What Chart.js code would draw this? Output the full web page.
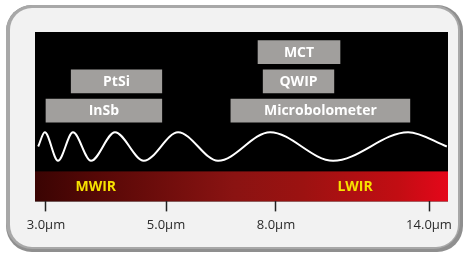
<!DOCTYPE html>
<html>
<head>
<meta charset="utf-8">
<script src="https://cdn.jsdelivr.net/npm/chart.js@4/dist/chart.umd.min.js"></script>
<style>
  html, body { margin: 0; padding: 0; background: #ffffff; }
  #c { display: block; }
</style>
</head>
<body>
<canvas id="c" width="464" height="256"></canvas>
<script>
// ---- data ----
const xTickValues = [3, 5, 8, 14];
const xTickLabels = ['3.0µm', '5.0µm', '8.0µm', '14.0µm'];

const detectors = ['InSb', 'PtSi', 'MCT', 'QWIP', 'Microbolometer'];
const detectorStart = [3.0, 3.42, 7.51, 7.65, 6.77];
const detectorEnd = [4.93, 4.93, 10.51, 10.27, 13.25];
const detectorRow = [0, 1, 2, 1, 0];

const waveX = [2.87, 2.98, 3.2, 3.45, 3.75, 4.15, 4.63, 5.33, 6.42, 7.84, 10.24, 13.18, 14.7];
const waveY = [0, 1, -1, 1, -1, 1, -1, 1, -1, 1, -1, 1, 0];

const bands = ['MWIR', 'LWIR'];
const bandLabelAt = [3.83, 11.1];

// ---- axis shape: the wavelength axis of the picture is not uniform ----
const xAxisMin = 2.817, xAxisMax = 14.745;
const xAxisStops = [[3, 0.0266], [5, 0.3172], [8, 0.5835], [14, 0.954]];

class PiecewiseScale extends Chart.LinearScale {
  _pts() { return [[this.min, 0]].concat(xAxisStops, [[this.max, 1]]); }
  _dec(v) {
    const p = this._pts();
    for (let i = 1; i < p.length; i++) {
      if (v <= p[i][0] || i === p.length - 1) {
        const a = p[i - 1], b = p[i];
        return a[1] + (v - a[0]) / (b[0] - a[0]) * (b[1] - a[1]);
      }
    }
  }
  getPixelForValue(v) { return v === null ? NaN : this.getPixelForDecimal(this._dec(v)); }
  getValueForPixel(px) {
    const d = this.getDecimalForPixel(px);
    const p = this._pts();
    for (let i = 1; i < p.length; i++) {
      if (d <= p[i][1] || i === p.length - 1) {
        const a = p[i - 1], b = p[i];
        return a[0] + (d - a[1]) / (b[1] - a[1]) * (b[0] - a[0]);
      }
    }
  }
}
PiecewiseScale.id = 'piecewise';
PiecewiseScale.defaults = {};
Chart.register(PiecewiseScale);

function rr(ctx, x, y, w, h, r) {
  ctx.beginPath();
  ctx.moveTo(x + r, y);
  ctx.lineTo(x + w - r, y);
  ctx.arcTo(x + w, y, x + w, y + r, r);
  ctx.lineTo(x + w, y + h - r);
  ctx.arcTo(x + w, y + h, x + w - r, y + h, r);
  ctx.lineTo(x + r, y + h);
  ctx.arcTo(x, y + h, x, y + h - r, r);
  ctx.lineTo(x, y + r);
  ctx.arcTo(x, y, x + r, y, r);
  ctx.closePath();
}

const backdrop = {
  id: 'backdrop',
  beforeDraw(chart) {
    const ctx = chart.ctx, a = chart.chartArea;
    ctx.save();
    ctx.fillStyle = '#ffffff';
    ctx.fillRect(0, 0, chart.width, chart.height);
    // frame with shadowed border
    rr(ctx, 6, 5, 457, 247, 26);
    ctx.fillStyle = '#8f8f8f';
    ctx.fill();
    rr(ctx, 6, 5, 454, 244, 26);
    ctx.fillStyle = '#a8a8a8';
    ctx.fill();
    rr(ctx, 10, 8, 448, 239, 22);
    ctx.fillStyle = '#f2f2f2';
    ctx.fill();
    // black panel
    ctx.fillStyle = '#000000';
    ctx.fillRect(a.left, a.top, a.right - a.left, a.bottom - a.top);
    // spectral band
    const g = ctx.createLinearGradient(a.left, 0, a.right, 0);
    g.addColorStop(0, '#3a0403');
    g.addColorStop(0.15, '#560806');
    g.addColorStop(0.48, '#8a1312');
    g.addColorStop(0.65, '#9c1211');
    g.addColorStop(0.88, '#c20d13');
    g.addColorStop(1, '#e5071a');
    ctx.fillStyle = g;
    ctx.fillRect(a.left, a.bottom - 30, a.right - a.left, 30);
    ctx.restore();
  },
  afterDatasetsDraw(chart) {
    const ctx = chart.ctx, a = chart.chartArea, xs = chart.scales.x;
    ctx.save();
    ctx.textAlign = 'center';
    ctx.textBaseline = 'middle';
    // detector labels
    ctx.font = 'bold 14px "Open Sans"';
    ctx.fillStyle = '#ffffff';
    chart.getDatasetMeta(0).data.forEach((el, i) => {
      ctx.fillText(detectors[i], (el.x + el.base) / 2, el.y + 0.5);
    });
    // band labels
    ctx.font = 'bold 14px "Open Sans"';
    ctx.fillStyle = '#f7e200';
    bands.forEach((b, i) => {
      ctx.fillText(b, xs.getPixelForValue(bandLabelAt[i]), a.bottom - 14);
    });
    ctx.restore();
  }
};

new Chart(document.getElementById('c'), {
  data: {
    datasets: [
      {
        type: 'bar',
        indexAxis: 'y',
        xAxisID: 'x',
        yAxisID: 'yb',
        data: detectors.map((d, i) => ({ x: [detectorStart[i], detectorEnd[i]], y: detectorRow[i] })),
        backgroundColor: '#a19f9d',
        borderWidth: 0,
        barThickness: 23
      },
      {
        type: 'line',
        xAxisID: 'x',
        yAxisID: 'yw',
        data: waveX.map((x, i) => ({ x: x, y: waveY[i] })),
        borderColor: '#ffffff',
        borderWidth: 2,
        pointRadius: 0,
        cubicInterpolationMode: 'monotone',
        fill: false
      }
    ]
  },
  options: {
    responsive: false,
    animation: false,
    events: [],
    layout: { padding: { left: 35, right: 16, top: 32, bottom: 17 } },
    plugins: { legend: { display: false }, tooltip: { enabled: false } },
    scales: {
      x: {
        type: 'piecewise',
        position: 'bottom',
        offset: false,
        min: xAxisMin,
        max: xAxisMax,
        afterBuildTicks: (s) => { s.ticks = xTickValues.map(v => ({ value: v })); },
        ticks: {
          callback: (v) => xTickLabels[xTickValues.indexOf(v)],
          font: { family: 'Open Sans', size: 13 },
          color: '#2b2b2b',
          padding: 6,
          autoSkip: false,
          maxRotation: 0
        },
        grid: { offset: false, drawOnChartArea: false, drawTicks: true, tickLength: 10, tickColor: '#222222', tickWidth: 1.5 },
        border: { display: false }
      },
      yb: { axis: 'y', type: 'linear', offset: false, grid: { offset: false }, bounds: 'data', min: -3.094, max: 2.684, display: false },
      yw: { axis: 'y', type: 'linear', offset: false, bounds: 'data', min: -3.842, max: 8.018, display: false }
    }
  },
  plugins: [backdrop]
});
</script>
</body>
</html>
